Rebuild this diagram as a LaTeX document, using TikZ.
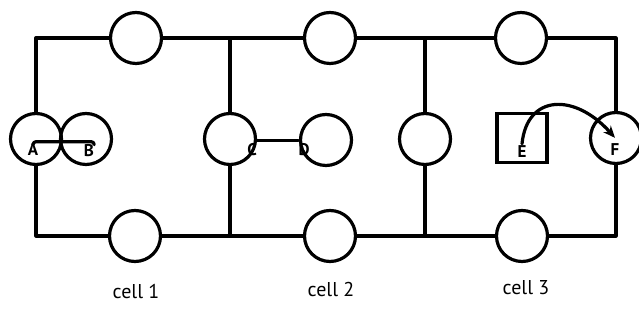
\documentclass[tikz,border=0pt]{standalone}
\usepackage{fontspec}
\setmainfont{PT Sans}
\usetikzlibrary{arrows.meta}
\begin{document}
\begin{tikzpicture}[x=1pt,y=1pt,
  wire/.style={line width=3.2pt,line cap=round,line join=round},
  port/.style={circle,draw,line width=3.2pt,minimum size=51pt,inner sep=0pt},
  boxport/.style={rectangle,draw,line width=3.2pt,minimum width=50pt,minimum height=49pt,inner sep=0pt},
  letter/.style={font=\bfseries\fontsize{17}{17}\selectfont,inner sep=0pt},
  celllabel/.style={font=\fontsize{20}{20}\selectfont}]
\useasboundingbox (0,0) rectangle (639,320);

% ports on the top and bottom rails
\node[port] (top1) at (136,282) {};
\node[port] (top2) at (330,282) {};
\node[port] (top3) at (521,282) {};
\node[port] (bot1) at (135,84) {};
\node[port] (bot2) at (330,84) {};
\node[port] (bot3) at (522,84) {};

% ports in the middle row
\node[port] (pa) at (36,181) {};
\node[port] (pb) at (86,181) {};
\node[port] (pc) at (230,181) {};
\node[port] (pd) at (326,180) {};
\node[port] (pg) at (425,181) {};
\node[boxport] (pe) at (522,182) {};
\node[port] (pf) at (616,182) {};

% letters inside the ports
\node[letter] (la) at (33,170) {A};
\node[letter] (lb) at (89,169) {B};
\node[letter] (lc) at (252,170) {C};
\node[letter] (ld) at (304,170) {D};
\node[letter] (le) at (522,168) {E};
\node[letter] (lf) at (615,170) {F};

% outer frame
\draw[wire] (pa) |- (top1);
\draw[wire] (pa) |- (bot1);
\draw[wire] (top1) -- (top2);
\draw[wire] (top2) -- (top3);
\draw[wire] (bot1) -- (bot2);
\draw[wire] (bot2) -- (bot3);
\draw[wire] (pf) |- (top3);
\draw[wire] (pf) |- (bot3);

% cell dividers
\draw[wire] (pc) -- (pc |- top1);
\draw[wire] (pc) -- (pc |- bot1);
\draw[wire] (pg) -- (pg |- top1);
\draw[wire] (pg) -- (pg |- bot1);

% links between the letters
\draw[wire,rounded corners=3pt] (la.north) |- ([yshift=3pt]lb.north east) -- (lb.north east);
\draw[wire] ([yshift=3pt]lc.north east) -- ([yshift=3pt]lc.north east -| ld.north west);
\draw[wire,-{Stealth[length=12pt,width=10pt]}] ([yshift=2pt]le.north) .. controls +(5,50) and +(-40,45) .. ([yshift=6pt]lf.north);

% cell captions
\node[celllabel] (cap1) at (136,28) {cell 1};
\node[celllabel] (cap2) at (331,30) {cell 2};
\node[celllabel] (cap3) at (526,32) {cell 3};
\end{tikzpicture}
\end{document}
